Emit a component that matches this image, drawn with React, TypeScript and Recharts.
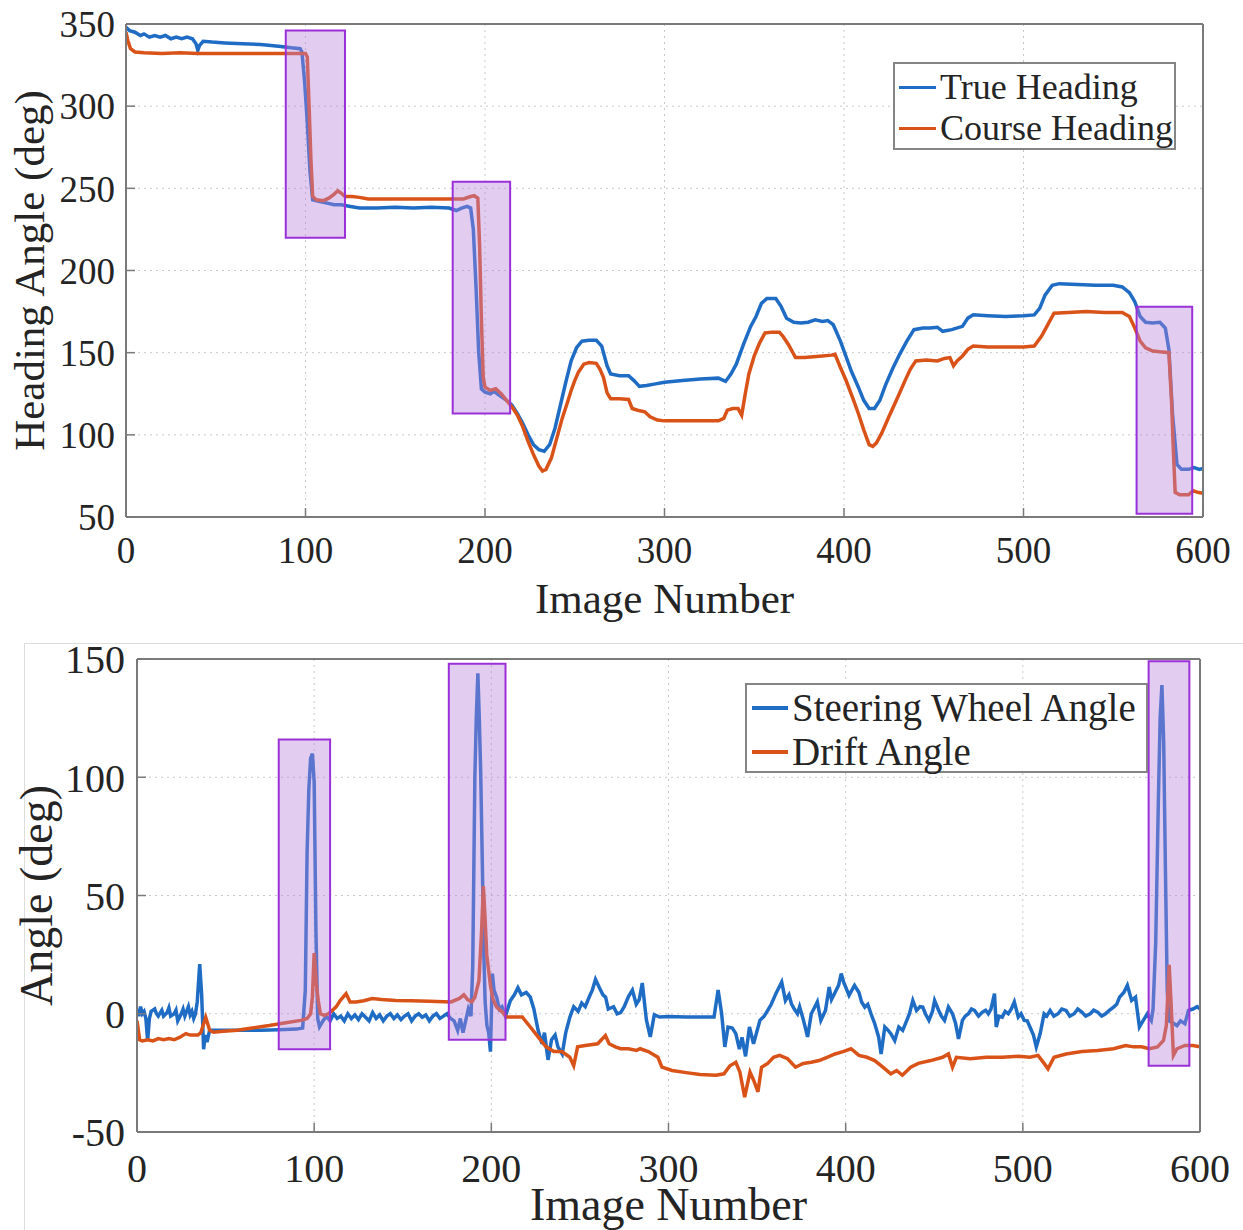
import React from 'react';
import { LineChart, Line, XAxis, YAxis, CartesianGrid, ReferenceArea, Legend } from 'recharts';

// Two stacked MATLAB-style panels: heading angles (top) and steering/drift angles (bottom).

const FONT = '"Liberation Serif", "Times New Roman", serif';
const BLUE = '#1f6cc4';
const RED = '#d95319';
const AXIS = '#7a7a7a';
const TEXT = '#242424';
const BOX_FILL = '#b682dc';
const BOX_STROKE = '#9b30d8';

const xTicks = [0, 100, 200, 300, 400, 500, 600];
const headingTicks = [50, 100, 150, 200, 250, 300, 350];
const angleTicks = [-50, 0, 50, 100, 150];

// [image number, deg]
const trueHeading: [number, number][] = [
  [0, 348], [2, 346], [5, 345], [8, 343], [10, 344], [13, 342], [16, 343], [19, 342], [22, 343], [25, 341],
  [28, 342], [31, 341], [34, 342], [37, 341], [39, 338], [40, 334], [41, 337], [43, 339.5], [48, 339], [55, 338.5],
  [65, 338], [75, 337.5], [85, 336.5], [92, 335.5], [97, 335], [98, 333], [99.5, 315], [101, 290], [102.5, 260], [104, 243],
  [108, 242], [112, 241], [116, 240], [120, 240], [125, 239], [130, 238], [140, 238], [150, 238.5], [160, 238], [170, 238.5],
  [180, 238], [184, 236.5], [187, 238], [190, 239], [192, 238], [193.5, 225], [195, 190], [196.5, 150], [198, 128], [200, 126],
  [203, 125], [205, 126.5], [208, 124], [212, 121], [215, 118], [218, 113], [221, 107], [224, 100], [227, 94], [230, 91],
  [233, 90], [236, 94], [239, 104], [242, 118], [245, 132], [248, 145], [251, 153], [254, 157], [258, 157.5], [262, 157.5],
  [265, 154], [268, 142], [270, 137], [275, 136], [280, 136], [283, 133], [286, 129.5], [290, 130], [295, 131], [300, 132],
  [310, 133], [320, 134], [330, 134.5], [334, 132.5], [337, 137], [340, 143], [344, 155], [348, 166], [351, 172], [354, 180],
  [357, 183], [362, 183], [365, 178], [368, 171], [372, 168.5], [376, 168], [380, 168.5], [384, 170], [388, 169], [391, 169.5],
  [394, 167], [398, 157], [401, 148], [404, 139], [408, 129], [411, 121], [414, 116], [417, 116], [420, 121], [423, 130],
  [427, 140], [431, 149], [435, 157], [439, 164], [444, 165], [448, 165], [452, 165.5], [455, 163], [460, 164], [466, 166],
  [469, 171], [472, 173], [480, 172.5], [490, 172], [500, 172.5], [506, 173], [509, 177], [512, 185], [516, 191], [520, 192],
  [530, 191.5], [540, 191], [550, 191], [555, 190], [559, 186.5], [562, 181], [565, 172], [568, 168.5], [572, 168], [576, 168.5],
  [579, 165], [581, 152], [583, 113], [585.5, 82], [588, 79], [592, 79], [595, 80], [598, 79], [600, 79.5],
];

const courseHeading: [number, number][] = [
  [0, 345], [1, 340], [2.5, 335], [5, 333], [10, 332.5], [20, 332], [30, 332.5], [40, 332], [50, 332], [60, 332],
  [70, 332], [80, 332], [90, 332], [100, 332], [101, 330], [102, 300], [103, 268], [104, 245], [106, 243], [110, 242.5],
  [113, 244], [116, 246.5], [118, 248.5], [120, 247], [122, 245], [126, 245], [130, 244.5], [135, 243.5], [140, 243.5], [150, 243.5],
  [160, 243.5], [170, 243.5], [180, 243.5], [188, 243.5], [192, 245], [194, 245.5], [196, 244], [197, 215], [198, 170], [199, 135],
  [200, 129], [203, 127], [206, 128], [209, 125], [212, 121], [215, 117], [218, 112], [221, 105], [224, 96], [227, 88],
  [230, 81], [232, 78], [234, 79], [237, 86], [240, 98], [243, 110], [246, 120], [248, 127], [250, 133], [252, 138],
  [255, 143], [258, 144], [262, 143.5], [264, 140], [266, 135], [268, 125.5], [270, 122], [275, 122], [280, 121.5], [282, 116],
  [285, 115], [289, 114], [292, 111], [296, 109], [300, 108.5], [310, 108.5], [320, 108.5], [330, 108.5], [333, 110], [335, 115],
  [338, 116], [341, 116], [343, 112], [345, 125], [347, 137], [350, 148], [353, 156], [356, 162], [360, 162.5], [364, 162.5],
  [366, 160], [369, 155], [373, 147], [378, 147], [383, 147.5], [388, 148], [393, 148.5], [395, 149], [398, 141], [401, 133.5],
  [405, 122], [408, 113], [411, 103], [414, 94], [416, 93], [418, 95], [421, 101], [425, 111], [430, 123], [434, 133],
  [437, 140], [440, 145], [446, 145.5], [452, 145], [456, 146.5], [459, 147], [461, 142], [463, 145], [466, 148], [469, 152],
  [472, 154], [480, 153.5], [490, 153.5], [500, 153.5], [506, 154], [510, 160], [514, 168], [517, 174], [525, 174.5], [535, 175],
  [545, 174.5], [555, 174.5], [559, 172], [562, 165], [565, 157], [568, 153], [572, 151], [576, 150.5], [581, 150], [582.5, 120],
  [583.5, 90], [584.5, 65], [587, 63.5], [592, 63.5], [594.5, 66], [597, 65], [600, 64.5],
];

const steeringAngle: [number, number][] = [
  [0, 2], [1, -1], [2, 3], [3, 0], [4, 1], [5, -2], [6, -11.5], [7, -2], [8, 1], [10, 2],
  [11, 0], [12, -1], [14, 1.5], [15, -1], [17, 0.5], [18, 2.5], [19, -1], [21, 0], [22, 1.5], [23, -3],
  [25, 0], [26, 2], [27, -1], [29, 3], [30, -0.5], [31, 1], [32, -2], [33, 0], [34, 5], [35.4, 21],
  [36.5, 8], [37.6, -15], [38.5, -9], [39.5, -12], [41, -7], [43, -7], [50, -7], [60, -7], [70, -7], [80, -6.8],
  [90, -6.5], [93.5, -6], [95, 10], [96, 68], [97, 95], [98, 108], [99, 110], [100, 98], [101, 35], [102, -2],
  [103, -5.5], [105, -3], [107, -1], [109, -3], [111, 0], [113, -2], [115, -1], [117, -3], [119, 0], [121, -2],
  [123, -0.5], [125, -2.5], [127, 0], [129, -1.5], [131, -3], [133, 0.5], [135, -2], [137, -0.5], [139, -3], [141, -1],
  [143, 0], [145, -2], [147, -0.5], [149, -2.5], [151, -1], [153, 0], [155, -3], [157, -1], [159, 0], [161, -1.5],
  [163, -0.5], [165, -3], [167, -1], [169, 0], [171, -2], [173, -1], [175, 0], [177, -2], [179, -3], [181, -7],
  [182.5, -2], [184, -8], [185.5, -3], [187, 2], [188.5, -1], [189.5, 20], [190.7, 100], [191.5, 125], [192.4, 144], [193.2, 125],
  [194, 102], [195, 60], [195.6, 30], [196.5, 5], [197.5, -5], [198.5, -8], [199.5, -16], [200.6, 17], [201.5, 10], [203, 7],
  [204.5, 2], [206, 3], [208, -1], [210.7, 5.5], [213, 8], [215, 11], [217, 8], [219.7, 9], [222, 7], [224, 2],
  [226.4, -7], [228.6, -12.7], [230, -8], [232, -19.5], [234, -11], [236, -9], [237.6, -14], [240, -17], [242, -8], [244.3, -1.5],
  [246.5, 3], [249, 1], [251, 4.5], [253, 3], [255.5, 7.5], [257, 10], [258.8, 14.5], [261, 11], [263, 8], [264.5, 7],
  [266, 2], [269, 3], [271, 0], [273, 0.5], [275, 3], [277.4, 7.3], [279.6, 10], [281.8, 4], [283.5, 6], [285.2, 13],
  [287.5, -2.5], [289.7, -9.8], [292, -0.4], [295, -1.4], [300, -1.2], [310, -1.4], [320, -1.4], [325.7, -1.4], [328, 10], [330, 0],
  [331.8, -14], [333.6, -5.6], [336, -6], [338, -8.4], [340, -15], [341.5, -10], [343.5, -18], [345.7, -5.6], [348, -12.7], [351.6, -2.8],
  [354, -1], [356, 1.4], [358, 4], [360.6, 8.5], [363.9, 13.4], [366, 5.6], [368, 8], [369.4, 4.2], [371, 2], [372.8, 0],
  [374, 3], [376.2, -2.8], [378.5, -9.8], [380.6, 0], [382, 2], [384, 5], [386, -2.8], [388.6, 1.4], [390.7, 11.3], [392, 6],
  [394, 9], [396, 12], [397.5, 17], [399, 13], [400, 11.3], [401.9, 7.8], [403.5, 10], [405, 12], [407.5, 9], [409, 5],
  [410.8, 2.8], [412.5, 4], [414.3, 0], [416.4, -4.2], [418.6, -9.8], [420, -17], [422.1, -5.6], [424, -7], [425.5, -8.4], [427.7, -11.3],
  [430, -5.6], [432.2, -7], [434.5, -2.8], [436, 0], [437.9, 5.6], [440, 1.4], [442, 3], [443.5, 2.8], [445, 0], [447, -2.8],
  [449, 1], [450.2, 5.6], [452.5, 1.4], [454, -1], [455.8, -2.8], [458, 2.8], [460.3, 0], [462, -4], [463.7, -10.6], [465.9, -2.8],
  [467.5, -1], [469.3, 0], [471, 2], [472.7, 1.4], [475, -1], [477.2, 0.7], [479, 1.5], [480.5, 0], [482, 2], [484, 8.5],
  [485, -5.6], [486.5, -1], [488.4, -1.4], [490, 1], [491.8, 0], [493.5, 2], [495.2, 5], [497.4, -1.4], [499, 0], [500.8, -2.8],
  [502.5, -3], [504, -5.6], [506, -9], [507.6, -14], [509.8, -8.4], [512, 0], [513.5, -1], [515.4, 1.4], [517.5, -1], [519.9, 0],
  [522, 2], [524.4, 1.4], [526.5, -1], [529, 0], [531, 2], [533.3, 0.7], [535.5, -1], [538, 0], [540, 1.5], [542.2, 0.7],
  [544.5, -1], [546.7, 0], [549, 1.5], [551.2, 2.8], [553, 4], [554.6, 7], [557, 9], [559, 12], [561.4, 5.6], [563.6, 7],
  [565.8, -5.6], [568, -2.8], [570.3, 0], [572.5, -2.8], [573.5, 2], [575, 30], [576.5, 90], [577.5, 125], [578.5, 139], [579.5, 115],
  [580.5, 60], [581.5, 10], [582.5, -3], [585, -4], [587, -5], [589, -3], [591.5, -4.2], [593.5, 1.4], [596, 2], [598.4, 3],
  [600, 2],
];

const driftAngle: [number, number][] = [
  [0, -3], [1.5, -11], [3, -11.5], [6, -11], [9, -11.5], [12, -10.5], [15, -11], [18, -10.5], [21, -11], [24, -10],
  [27.6, -8.4], [30, -9], [34.4, -9], [36, -8], [38.8, -1.5], [41, -7], [43.2, -7.8], [47, -7.5], [56.5, -7], [65, -6],
  [74.6, -5], [84, -3.8], [92.5, -2.8], [96, -2], [98, 0], [99, 7], [100, 25.7], [101.2, 12.7], [102.3, 5.6], [103.5, 0],
  [105.7, -0.7], [108, 0], [110.2, 1.4], [112.5, 3], [114.7, 5.6], [118, 8.5], [120.3, 5], [123.7, 5], [128, 5.5], [132.7, 6.4],
  [138, 6], [146, 5.6], [155, 5.5], [165, 5.3], [177.3, 5], [182, 6.5], [184.5, 8], [186.6, 6], [189, 5], [190.7, 7],
  [193, 14], [194.5, 35], [195.5, 54], [196.5, 40], [197.4, 25], [199.6, 11.3], [201, 6], [203, 2.8], [206.2, 0.7], [208.5, -1.4],
  [213, -1.4], [217.5, -1.4], [222, -5.6], [226.4, -9.8], [230.9, -14], [235.3, -16], [239.8, -16], [244.3, -18.4], [246.5, -22], [248.7, -14],
  [253, -13.4], [260, -12.7], [264.4, -9.2], [266.5, -12.7], [270, -14], [273, -14.8], [277.4, -14.8], [282, -15.5], [284, -14.8], [288.6, -16],
  [294, -18.4], [296.3, -22.6], [302, -24], [311, -25], [317.8, -25.7], [326.8, -26], [331.3, -25.4], [334.7, -22], [338, -20.5], [340.3, -24.7],
  [343, -35.3], [346, -24.7], [348, -28], [350.5, -33], [352.5, -22.6], [356, -21], [359.3, -18.4], [362.7, -17.6], [367.2, -19], [371.7, -22.6],
  [376, -21], [380.6, -20.5], [385, -19.8], [389.5, -18.4], [394, -17], [398.5, -16], [403, -14.8], [407.5, -17.6], [412, -18.4], [416.4, -19.8],
  [421, -22.6], [425.5, -25.4], [428.8, -24], [432, -26], [436.7, -22.6], [441, -21], [448, -19.8], [454.7, -18.4], [458, -17], [460.3, -22.6],
  [462.5, -18.4], [470.4, -19], [479.4, -18.4], [488.4, -18.4], [497.4, -18], [504, -18.4], [508.6, -17.6], [512, -21], [514.2, -23.3], [517.6, -18.4],
  [524.4, -17], [533.3, -16], [542.2, -15.5], [551.2, -14.8], [558, -13.4], [562.5, -14], [567, -14], [571.4, -14.8], [576, -14], [579.4, -11.3],
  [581, -5], [582.6, 20.7], [583.7, 4], [585, -17.6], [587, -14.8], [591.5, -13.4], [596, -13.4], [600, -14],
];

// highlighted manoeuvre windows: [x1, x2, y1, y2]
const headingBoxes: [number, number, number, number][] = [
  [89, 122, 220, 346],
  [182, 214, 113, 254],
  [563, 594, 52, 178],
];
const angleBoxes: [number, number, number, number][] = [
  [80, 109, -15, 116],
  [176, 208, -11, 148],
  [571, 594, -22, 149],
];

const toPts = (arr: [number, number][]) => arr.map(([x, y]) => ({ x, y }));

const makeXTick = (fontSize: number, dy: number) => (props: any) => {
  const { x, y, payload } = props;
  return (
    <g>
      <line x1={x} x2={x} y1={y} y2={y - 9} stroke={AXIS} strokeWidth={1.5} />
      <text x={x} y={y + dy} textAnchor="middle" fontSize={fontSize} fontFamily={FONT} fill={TEXT}>
        {payload.value}
      </text>
    </g>
  );
};

const makeYTick = (fontSize: number, gap: number) => (props: any) => {
  const { x, y, payload } = props;
  return (
    <g>
      <line x1={x} x2={x + 9} y1={y} y2={y} stroke={AXIS} strokeWidth={1.5} />
      <text x={x - gap} y={y} dy="0.36em" textAnchor="end" fontSize={fontSize} fontFamily={FONT} fill={TEXT}>
        {payload.value}
      </text>
    </g>
  );
};

const xTitle = (text: string, fontSize: number, dy: number) => (props: any) => {
  const vb = props.viewBox || {};
  return (
    <text x={vb.x + vb.width / 2} y={vb.y + dy} textAnchor="middle" fontSize={fontSize} fontFamily={FONT} fill={TEXT}>
      {text}
    </text>
  );
};

const yTitle = (text: string, fontSize: number, back: number) => (props: any) => {
  const vb = props.viewBox || {};
  const cx = vb.x + vb.width - back;
  const cy = vb.y + vb.height / 2;
  return (
    <text x={cx} y={cy} transform={`rotate(-90, ${cx}, ${cy})`} textAnchor="middle" fontSize={fontSize} fontFamily={FONT} fill={TEXT}>
      {text}
    </text>
  );
};

const LegendBox: React.FC<{ items: { name: string; color: string }[]; fontSize: number; rowH: number; padTop: number; textLeft: number; lineLeft: number }> = ({
  items, fontSize, rowH, padTop, textLeft, lineLeft,
}) => (
  <div
    style={{
      width: '100%', height: '100%', boxSizing: 'border-box', border: '2px solid #858585', background: '#fff',
      paddingTop: padTop, fontFamily: FONT, color: TEXT,
    }}
  >
    {items.map((it) => (
      <div key={it.name} style={{ position: 'relative', height: rowH, lineHeight: `${rowH}px`, fontSize, whiteSpace: 'nowrap' }}>
        <span style={{ position: 'absolute', left: lineLeft - 2, top: rowH / 2 - 2, width: textLeft - lineLeft - 4, height: 3.5, background: it.color }} />
        <span style={{ position: 'absolute', left: textLeft - 2 }}>{it.name}</span>
      </div>
    ))}
  </div>
);

const axisProps = { stroke: AXIS, strokeWidth: 2 };

const HeadingChart = () => (
  <LineChart width={1243} height={630} margin={{ top: 24, right: 40, bottom: 73, left: 66 }}>
    <CartesianGrid stroke="#c9c9c9" strokeDasharray="2 4" />
    <XAxis
      dataKey="x" type="number" domain={[0, 600]} ticks={xTicks} interval={0} allowDataOverflow
      height={40} tickSize={0} tickMargin={0} tickLine={false} axisLine={axisProps}
      tick={makeXTick(37, 46)} label={{ content: xTitle('Image Number', 43, 96) }}
    />
    <XAxis xAxisId="top" orientation="top" type="number" domain={[0, 600]} ticks={xTicks} interval={0}
      height={1} mirror tick={false} tickSize={9} tickLine={axisProps} axisLine={axisProps} />
    <YAxis
      type="number" domain={[50, 350]} ticks={headingTicks} interval={0} allowDataOverflow
      width={60} tickSize={0} tickMargin={0} tickLine={false} axisLine={axisProps}
      tick={makeYTick(37, 11)} label={{ content: yTitle('Heading Angle (deg)', 43, 82) }}
    />
    <YAxis yAxisId="right" orientation="right" type="number" domain={[50, 350]} ticks={headingTicks} interval={0}
      width={1} mirror tick={false} tickSize={9} tickLine={axisProps} axisLine={axisProps} />
    <Line data={toPts(trueHeading)} dataKey="y" name="True Heading" type="linear" dot={false} stroke={BLUE} strokeWidth={3.5} isAnimationActive={false} />
    <Line data={toPts(courseHeading)} dataKey="y" name="Course Heading" type="linear" dot={false} stroke={RED} strokeWidth={3.5} isAnimationActive={false} />
    {headingBoxes.map(([x1, x2, y1, y2], i) => (
      <ReferenceArea key={i} x1={x1} x2={x2} y1={y1} y2={y2} fill={BOX_FILL} fillOpacity={0.4} stroke={BOX_STROKE} strokeWidth={2} zIndex={450} />
    ))}
    <Legend
      layout="vertical" align="center" verticalAlign="middle"
      wrapperStyle={{ position: 'absolute', left: 893, top: 62, width: 283, height: 88, margin: 0 }}
      content={() => (
        <LegendBox items={[{ name: 'True Heading', color: BLUE }, { name: 'Course Heading', color: RED }]}
          fontSize={36} rowH={41} padTop={3} textLeft={47} lineLeft={6} />
      )}
    />
  </LineChart>
);

const AngleChart = () => (
  <LineChart width={1243} height={600} margin={{ top: 29, right: 43, bottom: 58, left: 77 }}>
    <CartesianGrid stroke="#c9c9c9" strokeDasharray="2 4" />
    <XAxis
      dataKey="x" type="number" domain={[0, 600]} ticks={xTicks} interval={0} allowDataOverflow
      height={40} tickSize={0} tickMargin={0} tickLine={false} axisLine={axisProps}
      tick={makeXTick(40, 50)} label={{ content: xTitle('Image Number', 46, 88) }}
    />
    <XAxis xAxisId="top" orientation="top" type="number" domain={[0, 600]} ticks={xTicks} interval={0}
      height={1} mirror tick={false} tickSize={9} tickLine={axisProps} axisLine={axisProps} />
    <YAxis
      type="number" domain={[-50, 150]} ticks={angleTicks} interval={0} allowDataOverflow
      width={60} tickSize={0} tickMargin={0} tickLine={false} axisLine={axisProps}
      tick={makeYTick(40, 12)} label={{ content: yTitle('Angle (deg)', 46, 85) }}
    />
    <YAxis yAxisId="right" orientation="right" type="number" domain={[-50, 150]} ticks={angleTicks} interval={0}
      width={1} mirror tick={false} tickSize={9} tickLine={axisProps} axisLine={axisProps} />
    <Line data={toPts(steeringAngle)} dataKey="y" name="Steering Wheel Angle" type="linear" dot={false} stroke={BLUE} strokeWidth={3.5} isAnimationActive={false} />
    <Line data={toPts(driftAngle)} dataKey="y" name="Drift Angle" type="linear" dot={false} stroke={RED} strokeWidth={3.5} isAnimationActive={false} />
    {angleBoxes.map(([x1, x2, y1, y2], i) => (
      <ReferenceArea key={i} x1={x1} x2={x2} y1={y1} y2={y2} fill={BOX_FILL} fillOpacity={0.4} stroke={BOX_STROKE} strokeWidth={2} zIndex={450} />
    ))}
    <Legend
      layout="vertical" align="center" verticalAlign="middle"
      wrapperStyle={{ position: 'absolute', left: 745, top: 53, width: 403, height: 90, margin: 0 }}
      content={() => (
        <LegendBox items={[{ name: 'Steering Wheel Angle', color: BLUE }, { name: 'Drift Angle', color: RED }]}
          fontSize={39} rowH={44} padTop={1} textLeft={47} lineLeft={7} />
      )}
    />
  </LineChart>
);

export default function App() {
  return (
    <div style={{ position: 'absolute', left: 0, top: 0, width: 1243, height: 1230, background: '#fff', overflow: 'hidden' }}>
      <div style={{ position: 'absolute', left: 0, top: 0 }}>
        <HeadingChart />
      </div>
      <div
        style={{
          position: 'absolute', left: 24, top: 643, width: 1219, height: 587, boxSizing: 'border-box',
          borderTop: '1px solid #dcdcdc', borderLeft: '1px solid #dcdcdc',
        }}
      />
      <div style={{ position: 'absolute', left: 0, top: 630 }}>
        <AngleChart />
      </div>
    </div>
  );
}
